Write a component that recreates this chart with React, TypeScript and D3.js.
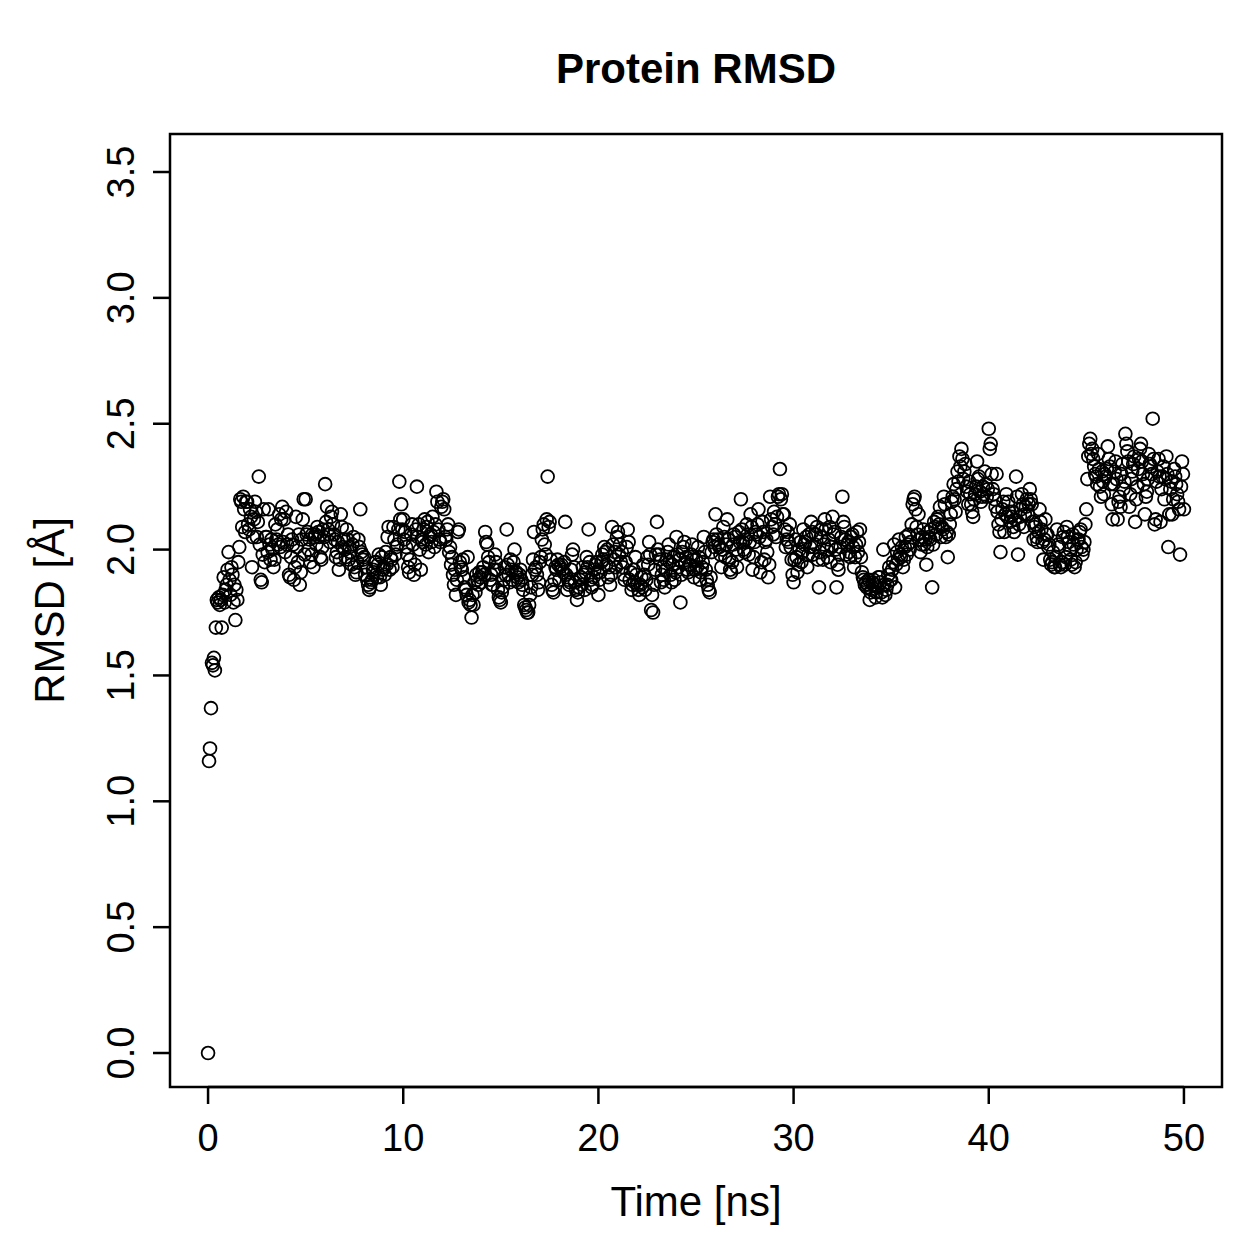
import React from "react";
import * as d3 from "d3";

// RMSD trajectory, one frame every 0.05 ns (0.00 .. 50.00 ns); one row per nanosecond
const rmsdRows: number[][] = [
  [0.00, 1.16, 1.21, 1.37, 1.55, 1.54, 1.57, 1.52, 1.69, 1.80, 1.79, 1.81, 1.78, 1.80, 1.69, 1.82, 1.89, 1.79, 1.84, 1.86],
  [1.92, 1.99, 1.88, 1.82, 1.93, 1.90, 1.79, 1.86, 1.72, 1.84, 1.80, 1.95, 2.01, 2.20, 2.19, 2.09, 2.21, 2.16, 2.07, 2.19],
  [2.19, 2.10, 2.08, 2.16, 2.13, 1.93, 2.05, 2.12, 2.19, 2.15, 2.05, 2.11, 2.29, 2.02, 1.88, 1.87, 1.98, 2.16, 1.95, 2.05],
  [2.05, 1.99, 2.16, 2.02, 1.96, 2.04, 2.00, 1.93, 1.96, 2.10, 2.04, 2.08, 2.02, 2.14, 2.01, 2.12, 2.17, 2.03, 2.12, 1.99],
  [2.15, 2.02, 2.06, 1.90, 1.89, 1.97, 2.04, 2.02, 1.88, 1.93, 2.13, 2.01, 1.95, 2.06, 1.86, 1.91, 2.04, 2.12, 2.20, 1.98],
  [2.20, 2.06, 2.07, 2.00, 2.04, 1.95, 1.98, 2.06, 1.93, 2.05, 2.06, 2.02, 2.09, 2.07, 2.05, 1.97, 1.96, 2.01, 2.08, 2.05],
  [2.26, 2.11, 2.17, 2.08, 2.06, 2.03, 2.13, 2.15, 2.10, 2.06, 2.04, 1.97, 1.99, 2.03, 1.92, 1.96, 2.14, 2.09, 2.01, 2.04],
  [2.00, 1.97, 2.08, 2.04, 1.96, 2.01, 1.99, 1.94, 2.02, 2.05, 1.93, 1.90, 1.91, 1.95, 2.04, 2.01, 2.16, 1.99, 1.98, 1.96],
  [1.97, 1.90, 1.93, 1.88, 1.86, 1.84, 1.85, 1.87, 1.88, 1.92, 1.91, 1.95, 1.95, 1.89, 1.94, 1.98, 1.89, 1.86, 1.97, 1.92],
  [1.93, 1.90, 1.99, 1.94, 2.05, 2.09, 1.92, 1.97, 1.96, 1.93, 2.09, 2.04, 1.98, 2.01, 2.02, 2.08, 2.27, 2.12, 2.18, 2.08],
  [2.12, 2.04, 2.07, 2.01, 1.98, 1.93, 1.91, 1.96, 2.06, 2.10, 2.02, 1.90, 1.94, 2.08, 2.25, 2.05, 2.10, 2.00, 1.92, 2.04],
  [2.03, 2.08, 2.12, 2.02, 2.09, 2.11, 1.99, 2.05, 2.06, 2.03, 2.13, 2.07, 2.01, 2.10, 2.23, 2.19, 2.08, 2.04, 2.03, 2.17],
  [2.19, 2.20, 2.16, 2.05, 2.04, 2.08, 2.10, 1.99, 2.01, 1.94, 1.97, 1.90, 1.86, 1.92, 1.82, 1.88, 2.07, 2.08, 1.95, 1.93],
  [1.92, 1.96, 1.89, 1.85, 1.84, 1.82, 1.97, 1.79, 1.80, 1.78, 1.73, 1.82, 1.78, 1.87, 1.83, 1.90, 1.88, 1.86, 1.91, 1.89],
  [1.87, 1.91, 1.93, 1.90, 2.07, 2.03, 2.02, 1.97, 1.95, 1.88, 1.90, 1.86, 1.86, 1.92, 1.98, 1.95, 1.92, 1.84, 1.81, 1.80],
  [1.79, 1.83, 1.85, 1.88, 1.93, 1.90, 2.08, 1.94, 1.90, 1.87, 1.96, 1.92, 1.88, 1.95, 2.00, 1.91, 1.91, 1.89, 1.87, 1.90],
  [1.92, 1.88, 1.86, 1.84, 1.78, 1.77, 1.76, 1.75, 1.75, 1.78, 1.82, 1.85, 1.90, 1.96, 2.07, 1.92, 1.93, 1.90, 1.84, 1.87],
  [1.95, 1.97, 2.04, 2.08, 2.10, 2.02, 1.98, 2.12, 2.29, 2.09, 2.11, 1.96, 1.86, 1.84, 1.83, 1.88, 1.93, 1.92, 1.96, 1.94],
  [1.88, 1.93, 1.94, 1.92, 1.91, 1.95, 2.11, 1.90, 1.84, 1.88, 1.86, 1.87, 1.92, 1.98, 2.00, 1.93, 1.87, 1.84, 1.80, 1.83],
  [1.85, 1.88, 1.89, 1.86, 1.93, 1.90, 1.84, 1.91, 1.97, 1.93, 2.08, 1.95, 1.88, 1.85, 1.86, 1.89, 1.92, 1.94, 1.95, 1.91],
  [1.82, 1.88, 1.91, 1.95, 1.98, 1.96, 2.01, 1.99, 1.94, 2.00, 1.89, 1.93, 1.86, 1.90, 2.09, 2.02, 1.96, 1.99, 1.93, 2.05],
  [2.07, 1.98, 2.02, 1.95, 1.99, 1.93, 1.90, 1.88, 1.95, 2.01, 2.08, 2.03, 1.88, 1.91, 1.84, 1.86, 1.92, 1.87, 1.97, 1.90],
  [1.86, 1.84, 1.82, 1.86, 1.89, 1.85, 1.94, 1.90, 1.84, 1.88, 1.97, 1.94, 2.03, 1.98, 1.76, 1.82, 1.75, 1.86, 1.92, 1.98],
  [2.11, 2.00, 1.98, 1.96, 1.87, 1.90, 1.93, 1.88, 1.85, 1.92, 1.96, 1.99, 2.02, 1.95, 1.90, 1.87, 1.94, 1.97, 1.88, 1.91],
  [2.05, 1.98, 1.93, 1.96, 1.79, 1.90, 1.99, 2.01, 2.03, 1.95, 1.97, 1.92, 1.91, 1.94, 1.94, 1.98, 2.02, 1.96, 1.89, 1.92],
  [1.96, 1.93, 2.01, 1.97, 1.88, 1.91, 1.93, 1.95, 2.05, 1.99, 1.92, 1.88, 1.86, 1.84, 1.83, 1.89, 1.99, 2.03, 2.04, 2.01],
  [2.14, 2.06, 2.04, 2.02, 2.01, 1.98, 1.93, 2.00, 2.09, 2.05, 1.97, 2.02, 2.12, 2.04, 1.96, 1.92, 1.91, 1.95, 2.02, 2.06],
  [2.05, 2.00, 1.93, 1.98, 2.07, 2.03, 2.20, 2.08, 2.03, 2.00, 1.99, 2.04, 2.10, 2.06, 1.98, 2.03, 2.14, 2.09, 1.92, 1.97],
  [2.03, 2.07, 2.06, 2.10, 2.16, 2.05, 1.91, 1.95, 2.11, 2.07, 1.96, 2.03, 2.04, 1.99, 1.89, 1.94, 2.21, 2.12, 2.09, 2.06],
  [2.15, 2.10, 2.05, 2.13, 2.21, 2.22, 2.32, 2.20, 2.22, 2.14, 2.14, 2.08, 2.01, 2.04, 2.07, 2.03, 2.10, 2.01, 1.96, 1.90],
  [1.87, 1.96, 2.04, 1.97, 1.91, 1.94, 2.00, 2.03, 1.95, 1.99, 2.08, 2.02, 2.03, 2.05, 1.93, 1.98, 2.06, 2.01, 2.11, 2.07],
  [1.98, 2.01, 2.02, 2.06, 2.09, 1.96, 1.85, 1.99, 2.05, 2.08, 1.96, 2.02, 2.12, 2.08, 2.00, 1.97, 2.04, 2.09, 1.95, 2.01],
  [2.13, 2.06, 2.07, 2.00, 1.85, 1.94, 1.92, 1.98, 2.01, 2.05, 2.21, 2.11, 2.09, 2.04, 1.98, 2.02, 2.03, 1.99, 1.97, 2.05],
  [2.06, 2.01, 1.93, 1.97, 2.02, 2.07, 1.99, 2.03, 2.08, 1.97, 1.91, 1.89, 1.88, 1.86, 1.87, 1.85, 1.86, 1.88, 1.80, 1.83],
  [1.84, 1.87, 1.88, 1.86, 1.81, 1.83, 1.85, 1.89, 1.89, 1.87, 1.83, 1.81, 2.00, 1.86, 1.82, 1.84, 1.86, 1.90, 1.93, 1.88],
  [1.88, 1.92, 1.95, 2.02, 1.85, 1.94, 1.99, 1.96, 2.04, 1.98, 1.97, 2.01, 1.93, 1.96, 2.01, 2.05, 1.98, 2.02, 2.06, 2.00],
  [2.03, 2.10, 2.18, 2.20, 2.21, 2.16, 2.09, 2.06, 2.14, 2.04, 1.99, 2.02, 2.05, 2.08, 2.02, 2.04, 1.94, 2.01, 2.07, 2.05],
  [2.04, 2.08, 1.85, 2.02, 2.11, 2.09, 2.06, 2.12, 2.13, 2.10, 2.17, 2.05, 2.09, 2.08, 2.21, 2.18, 2.05, 2.07, 1.97, 2.06],
  [2.10, 2.14, 2.19, 2.21, 2.26, 2.20, 2.15, 2.24, 2.31, 2.27, 2.37, 2.33, 2.40, 2.36, 2.28, 2.31, 2.34, 2.25, 2.23, 2.18],
  [2.27, 2.22, 2.18, 2.15, 2.13, 2.20, 2.22, 2.25, 2.35, 2.28, 2.29, 2.23, 2.19, 2.21, 2.25, 2.22, 2.31, 2.26, 2.21, 2.24],
  [2.48, 2.40, 2.42, 2.30, 2.24, 2.22, 2.20, 2.17, 2.30, 2.15, 2.10, 2.07, 1.99, 2.12, 2.16, 2.19, 2.07, 2.14, 2.22, 2.13],
  [2.19, 2.15, 2.11, 2.13, 2.15, 2.09, 2.07, 2.12, 2.29, 2.21, 1.98, 2.10, 2.13, 2.16, 2.22, 2.18, 2.09, 2.14, 2.17, 2.20],
  [2.14, 2.18, 2.24, 2.20, 2.18, 2.11, 2.04, 2.09, 2.10, 2.05, 2.03, 2.07, 2.16, 2.11, 2.08, 2.03, 1.96, 2.04, 2.12, 2.06],
  [2.06, 2.01, 2.02, 1.96, 1.94, 1.95, 1.99, 1.93, 1.93, 1.97, 2.08, 2.02, 2.01, 1.94, 1.93, 1.95, 2.05, 2.07, 1.94, 1.97],
  [2.09, 2.05, 2.03, 2.00, 1.96, 1.94, 2.06, 2.02, 1.93, 1.95, 2.00, 2.04, 2.04, 2.07, 2.08, 2.01, 1.98, 2.00, 2.03, 2.10],
  [2.16, 2.28, 2.37, 2.42, 2.44, 2.38, 2.40, 2.36, 2.33, 2.30, 2.29, 2.26, 2.38, 2.32, 2.25, 2.21, 2.31, 2.27, 2.22, 2.30],
  [2.29, 2.32, 2.41, 2.36, 2.33, 2.26, 2.18, 2.12, 2.26, 2.31, 2.35, 2.28, 2.12, 2.19, 2.21, 2.17, 2.30, 2.34, 2.24, 2.27],
  [2.46, 2.42, 2.39, 2.35, 2.17, 2.22, 2.28, 2.31, 2.34, 2.37, 2.11, 2.20, 2.25, 2.32, 2.36, 2.40, 2.42, 2.35, 2.30, 2.26],
  [2.14, 2.21, 2.23, 2.28, 2.38, 2.34, 2.33, 2.30, 2.52, 2.36, 2.10, 2.12, 2.27, 2.31, 2.36, 2.29, 2.11, 2.24, 2.29, 2.33],
  [2.20, 2.28, 2.37, 2.30, 2.01, 2.14, 2.24, 2.27, 2.14, 2.20, 2.32, 2.29, 2.26, 2.22, 2.19, 2.16, 1.98, 2.25, 2.35, 2.30],
  [2.16],
];

const frameStep = 0.05; // ns between frames
const xTicks = [0, 10, 20, 30, 40, 50];
const yTicks = [0.0, 0.5, 1.0, 1.5, 2.0, 2.5, 3.0, 3.5];

const titleText = "Protein RMSD";
const xLabel = "Time [ns]";
const yLabel = "RMSD [Å]";

export default function App() {
  const W = 1259;
  const H = 1259;
  const plot = { left: 170, right: 1222, top: 134, bottom: 1087 };

  // Axis limits padded like R's default "r" axis style
  const x = d3.scaleLinear().domain([-1.95, 51.95]).range([plot.left, plot.right]);
  const y = d3.scaleLinear().domain([-0.135, 3.651]).range([plot.bottom, plot.top]);

  const values = rmsdRows.flat();
  const points = values.map((v, i) => ({ t: i * frameStep, v }));

  const font = "'Liberation Sans', Arial, Helvetica, sans-serif";
  const tickLen = 17;

  return (
    <svg width={W} height={H} style={{ display: "block", position: "absolute", left: 0, top: 0, background: "#fff" }}>
      <rect x={0} y={0} width={W} height={H} fill="#fff" />
      <text x={(plot.left + plot.right) / 2} y={83} textAnchor="middle" fontFamily={font} fontWeight="bold" fontSize={42}>
        {titleText}
      </text>

      {points.map((p, i) => (
        <circle key={i} cx={x(p.t)} cy={y(p.v)} r={6.4} fill="none" stroke="#000" strokeWidth={1.8} />
      ))}

      <rect x={plot.left} y={plot.top} width={plot.right - plot.left} height={plot.bottom - plot.top}
        fill="none" stroke="#000" strokeWidth={2.5} />

      {/* x axis */}
      <line x1={x(xTicks[0])} x2={x(xTicks[xTicks.length - 1])} y1={plot.bottom} y2={plot.bottom} stroke="#000" strokeWidth={2.5} />
      {xTicks.map((t) => (
        <g key={t}>
          <line x1={x(t)} x2={x(t)} y1={plot.bottom} y2={plot.bottom + tickLen} stroke="#000" strokeWidth={2.5} />
          <text x={x(t)} y={1151} textAnchor="middle" fontFamily={font} fontSize={38}>{t}</text>
        </g>
      ))}
      <text x={(plot.left + plot.right) / 2} y={1216} textAnchor="middle" fontFamily={font} fontSize={42}>{xLabel}</text>

      {/* y axis */}
      {yTicks.map((t) => (
        <g key={t}>
          <line x1={plot.left - tickLen} x2={plot.left} y1={y(t)} y2={y(t)} stroke="#000" strokeWidth={2.5} />
          <text transform={`translate(134,${y(t)}) rotate(-90)`} textAnchor="middle" fontFamily={font} fontSize={38}>
            {d3.format(".1f")(t)}
          </text>
        </g>
      ))}
      <text transform={`translate(64,${(plot.top + plot.bottom) / 2}) rotate(-90)`} textAnchor="middle" fontFamily={font} fontSize={42}>
        {yLabel}
      </text>
    </svg>
  );
}
